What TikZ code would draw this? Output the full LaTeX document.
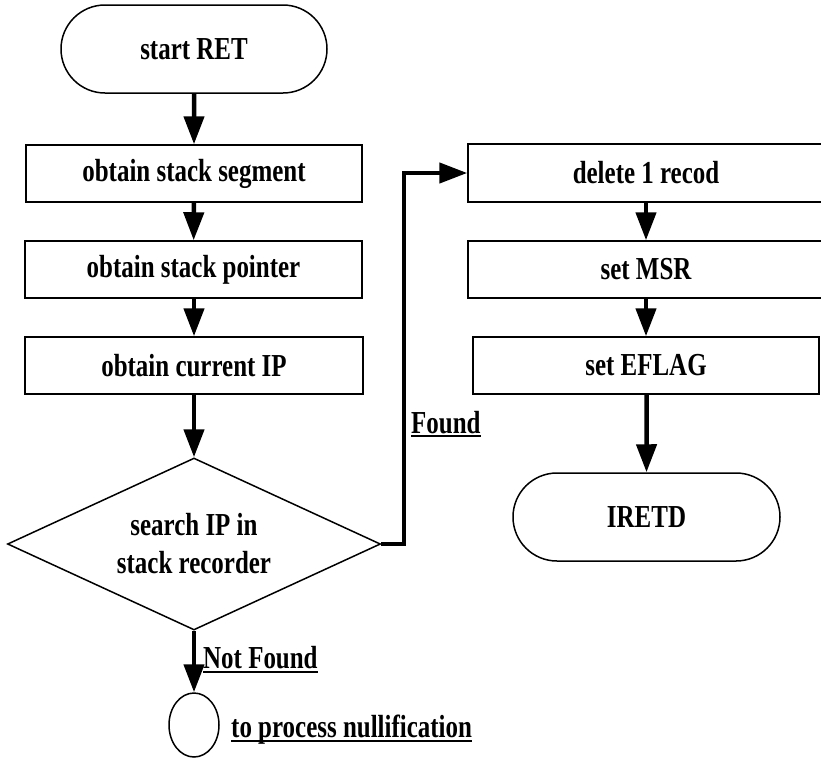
\documentclass[tikz,border=0pt]{standalone}
\usepackage{fontspec}
\setmainfont{Liberation Serif}[FakeStretch=0.78]
\usetikzlibrary{shapes.geometric,shapes.misc,arrows.meta}
\begin{document}
\begin{tikzpicture}[x=1pt,y=-1pt,
  every node/.style={font=\fontsize{32}{38}\selectfont\bfseries},
  box/.style={draw, line width=1.5pt, minimum height=57pt, inner sep=0pt},
  term/.style={draw, rounded rectangle, line width=1.5pt, minimum width=266pt, minimum height=88pt, inner sep=0pt},
  flow/.style={line width=4.5pt, -{Triangle[length=28pt,width=20pt]}},
  lbl/.style={inner sep=0pt, anchor=base west},
  uline/.style={line width=1.5pt}
]
\useasboundingbox (0,0) rectangle (821,758);

\node[term] (start) at (194,49) {start RET};
\node[box, minimum width=336pt] (seg) at (194,173.5) {obtain stack segment};
\node[box, minimum width=337pt] (ptr) at (193.5,269.5) {obtain stack pointer};
\node[box, minimum width=338pt] (cip) at (194,365.5) {obtain current IP};
\node[draw, diamond, aspect=2.17, minimum width=373pt, minimum height=172pt, inner sep=0pt, line width=1.5pt, align=center] (dia) at (194,544) {search IP in\\stack recorder};
\node[draw, ellipse, minimum width=50pt, minimum height=64pt, line width=1.5pt, inner sep=0pt] (end) at (194,725) {};

\node[box, minimum width=356pt, minimum height=58pt] (del) at (646,173) {delete 1 recod};
\node[box, minimum width=356pt] (msr) at (646,269.5) {set MSR};
\node[box, minimum width=346pt] (efl) at (646,365.5) {set EFLAG};
\node[term, minimum width=267pt] (iretd) at (646.5,517) {IRETD};

\node[lbl] (nf) at (203,668) {Not Found};
\node[lbl] (fd) at (411,433) {Found};
\node[lbl] (tp) at (231,737) {to process nullification};
\draw[uline] ([yshift=-4pt]nf.base west) -- ([yshift=-4pt]nf.base east);
\draw[uline] ([yshift=-3pt]fd.base west) -- ([yshift=-3pt]fd.base east);
\draw[uline] ([yshift=-4pt]tp.base west) -- ([yshift=-4pt]tp.base east);

\draw[flow] (start) -- (seg);
\draw[flow] (seg) -- (ptr);
\draw[flow] (ptr.south -| cip.north) -- (cip);
\draw[flow] (cip) -- (dia);
\draw[flow] (dia) -- (end);
\coordinate (bend) at (404,544);
\draw[flow] (dia.east) -- (bend) |- (del.west);
\draw[flow] (del) -- (msr);
\draw[flow] (msr) -- (efl);
\draw[flow] (efl.south -| iretd.north) -- (iretd);
\end{tikzpicture}
\end{document}
